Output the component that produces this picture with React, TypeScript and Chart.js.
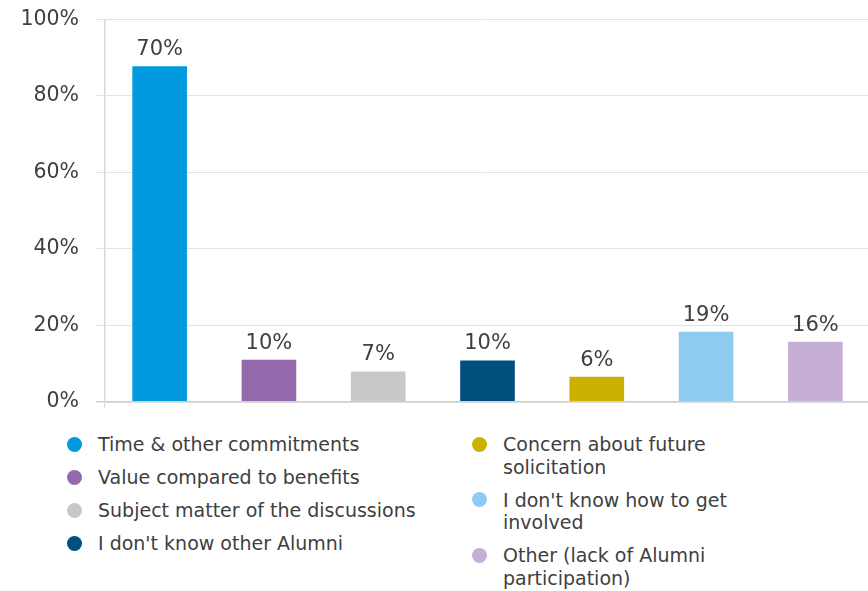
import React, { useEffect, useRef } from 'react';
import { Chart, registerables } from 'chart.js';

Chart.register(...registerables);

const categories = [
  'Time & other commitments',
  'Value compared to benefits',
  'Subject matter of the discussions',
  "I don't know other Alumni",
  'Concern about future solicitation',
  "I don't know how to get involved",
  'Other (lack of Alumni participation)',
];
const barValues = [87.7, 11.0, 7.9, 10.8, 6.5, 18.3, 15.7];
const valueLabels = ['70%', '10%', '7%', '10%', '6%', '19%', '16%'];
const barColors = ['#009ADE', '#956AAC', '#C8C8C8', '#00507F', '#CBB100', '#8DCBF0', '#C6AFD7'];
const yMin = 0;
const yMax = 100;
const yStep = 20;

const FONT = '"DejaVu Sans", sans-serif';
const TEXT = '#404040';

const valueLabelPlugin = {
  id: 'valueLabels',
  afterDatasetsDraw(chart: any) {
    const ctx = chart.ctx;
    const meta = chart.getDatasetMeta(0);
    ctx.save();
    ctx.font = `21px ${FONT}`;
    ctx.fillStyle = TEXT;
    ctx.textAlign = 'center';
    ctx.textBaseline = 'alphabetic';
    meta.data.forEach((bar: any, i: number) => {
      ctx.fillText(valueLabels[i], bar.x, bar.y - 11);
    });
    ctx.restore();
  },
};

function LegendItem({ color, text, width }: { color: string; text: string; width: number }) {
  return (
    <div style={{ display: 'flex', alignItems: 'flex-start', marginBottom: 10.5 }}>
      <div
        style={{
          width: 15,
          height: 15,
          borderRadius: '50%',
          background: color,
          marginTop: 3.75,
          flex: '0 0 auto',
        }}
      />
      <div style={{ marginLeft: 16, width, lineHeight: '22.5px', fontSize: 19, color: TEXT, fontFamily: FONT }}>
        {text}
      </div>
    </div>
  );
}

export default function App() {
  const ref = useRef<HTMLCanvasElement>(null);

  useEffect(() => {
    if (!ref.current) return;
    const chart = new Chart(ref.current, {
      type: 'bar',
      data: {
        labels: categories,
        datasets: [
          {
            data: barValues,
            backgroundColor: barColors,
            borderWidth: 0,
            barPercentage: 0.5,
            categoryPercentage: 1.0,
          },
        ],
      },
      options: {
        responsive: false,
        animation: false,
        layout: { padding: { top: 19, bottom: 2, left: 0, right: 0 } },
        plugins: { legend: { display: false }, tooltip: { enabled: false } },
        scales: {
          x: {
            ticks: { display: false },
            grid: {
              drawOnChartArea: false,
              tickLength: 6,
              color: (c: any) => (c.index === 0 ? '#d6d6d6' : 'rgba(0,0,0,0)'),
            },
            border: { display: true, color: '#cfcfcf', width: 1.5 },
            afterFit: (s: any) => {
              s.height = 9;
            },
          },
          y: {
            min: yMin,
            max: yMax,
            ticks: {
              stepSize: yStep,
              padding: 17,
              color: TEXT,
              font: { family: FONT, size: 20.5 },
              callback: (v: any) => `${v}%`,
            },
            grid: {
              tickLength: 9,
              color: (c: any) => (c.tick && c.tick.value === 0 ? '#cfcfcf' : '#e3e3e3'),
              lineWidth: (c: any) => (c.tick && c.tick.value === 0 ? 1.5 : 1),
            },
            border: { display: true, color: '#d9d9d9', width: 1.5 },
            afterFit: (s: any) => {
              s.width = 105;
            },
          },
        },
      },
      plugins: [valueLabelPlugin],
    });
    return () => chart.destroy();
  }, []);

  const left = categories.slice(0, 4);
  const right = categories.slice(4);

  return (
    <div style={{ position: 'absolute', left: 0, top: 0, width: 868, height: 591, overflow: 'hidden', background: '#fff' }}>
      <canvas ref={ref} width={870} height={441} style={{ position: 'absolute', left: 0, top: -10 }} />
      <div style={{ position: 'absolute', left: 67, top: 433 }}>
        {left.map((t, i) => (
          <LegendItem key={t} color={barColors[i]} text={t} width={340} />
        ))}
      </div>
      <div style={{ position: 'absolute', left: 472, top: 433 }}>
        {right.map((t, i) => (
          <LegendItem key={t} color={barColors[i + 4]} text={t} width={240} />
        ))}
      </div>
    </div>
  );
}
